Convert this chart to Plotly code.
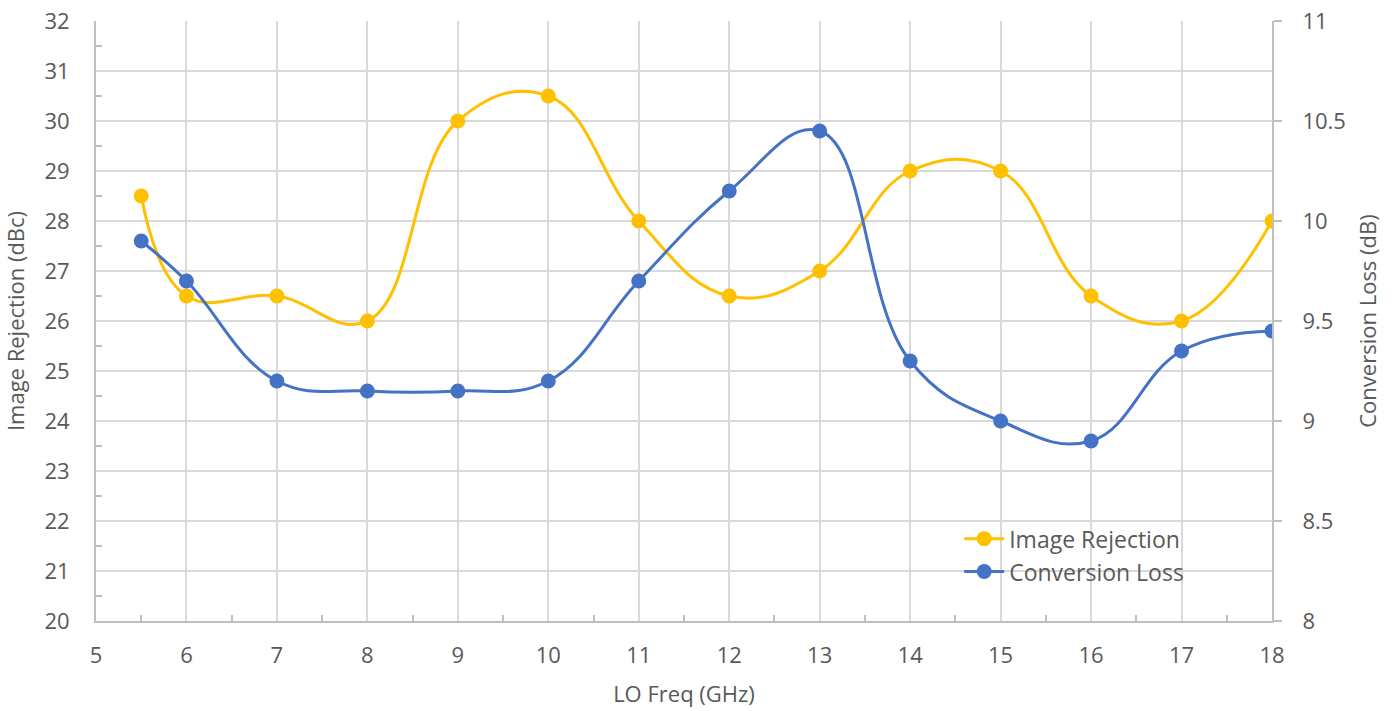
import plotly.graph_objects as go

lo_freq = [5.5, 6, 7, 8, 9, 10, 11, 12, 13, 14, 15, 16, 17, 18]
image_rejection = [28.5, 26.5, 26.5, 26, 30, 30.5, 28, 26.5, 27, 29, 29, 26.5, 26, 28]
conversion_loss = [9.9, 9.7, 9.2, 9.15, 9.15, 9.2, 9.7, 10.15, 10.45, 9.3, 9.0, 8.9, 9.35, 9.45]

YELLOW = "#FFC000"
BLUE = "#4472C4"
TXT = "#595959"
AXIS = "#BFBFBF"
GRID = "#D9D9D9"
FONT = "Open Sans"
FS = 22
FS_LEG = 23

fig = go.Figure()
fig.add_trace(go.Scatter(
    x=lo_freq, y=image_rejection, name="Image Rejection",
    mode="lines+markers", line=dict(color=YELLOW, width=3, shape="spline", smoothing=1.2),
    marker=dict(color=YELLOW, size=15), yaxis="y"))
fig.add_trace(go.Scatter(
    x=lo_freq, y=conversion_loss, name="Conversion Loss",
    mode="lines+markers", line=dict(color=BLUE, width=3, shape="spline", smoothing=1.2),
    marker=dict(color=BLUE, size=15), yaxis="y2"))

fig.update_layout(
    width=1400, height=711,
    margin=dict(l=96, r=128, t=21, b=90, autoexpand=False),
    paper_bgcolor="white", plot_bgcolor="white",
    font=dict(family=FONT, size=FS, color=TXT),
    xaxis=dict(
        range=[5, 18], dtick=1, tick0=5, showgrid=True, gridcolor=GRID, gridwidth=2,
        showline=True, linecolor=AXIS, linewidth=2, zeroline=False, ticks="",
        automargin=False, ticklabelstandoff=14, ticklabeloverflow="allow",
        minor=dict(dtick=0.5, ticks="inside", ticklen=6, tickcolor=AXIS, tickwidth=2, showgrid=False),
        title=dict(text="LO Freq (GHz)", font=dict(size=FS, color=TXT), standoff=18),
        tickfont=dict(size=FS, color=TXT),
    ),
    yaxis=dict(
        range=[20, 32], dtick=1, showgrid=True, gridcolor=GRID, gridwidth=2,
        showline=True, linecolor=AXIS, linewidth=2, zeroline=False, ticks="",
        automargin=False, ticklabelstandoff=20, ticklabeloverflow="allow",
        minor=dict(dtick=0.5, ticks="inside", ticklen=6, tickcolor=AXIS, tickwidth=2, showgrid=False),
        title=dict(text="Image Rejection (dBc)", font=dict(size=FS, color=TXT), standoff=14),
        tickfont=dict(size=FS, color=TXT),
    ),
    yaxis2=dict(
        range=[8, 11], dtick=0.5, overlaying="y", side="right", showgrid=False,
        showline=True, linecolor=AXIS, linewidth=2, zeroline=False,
        automargin=False, ticklabelstandoff=16, ticklabeloverflow="allow",
        ticks="outside", ticklen=8, tickcolor=AXIS, tickwidth=2,
        title=dict(text="Conversion Loss (dB)", font=dict(size=FS, color=TXT), standoff=16),
        tickfont=dict(size=FS, color=TXT),
    ),
    legend=dict(x=0.734, y=0.173, xanchor="left", yanchor="top", bgcolor="rgba(0,0,0,0)",
                font=dict(size=FS_LEG, color=TXT), tracegroupgap=0, itemwidth=40),
    showlegend=True,
)

fig.write_html("out.html", config={"displayModeBar": False},
               post_script="document.body.style.margin='0';")
